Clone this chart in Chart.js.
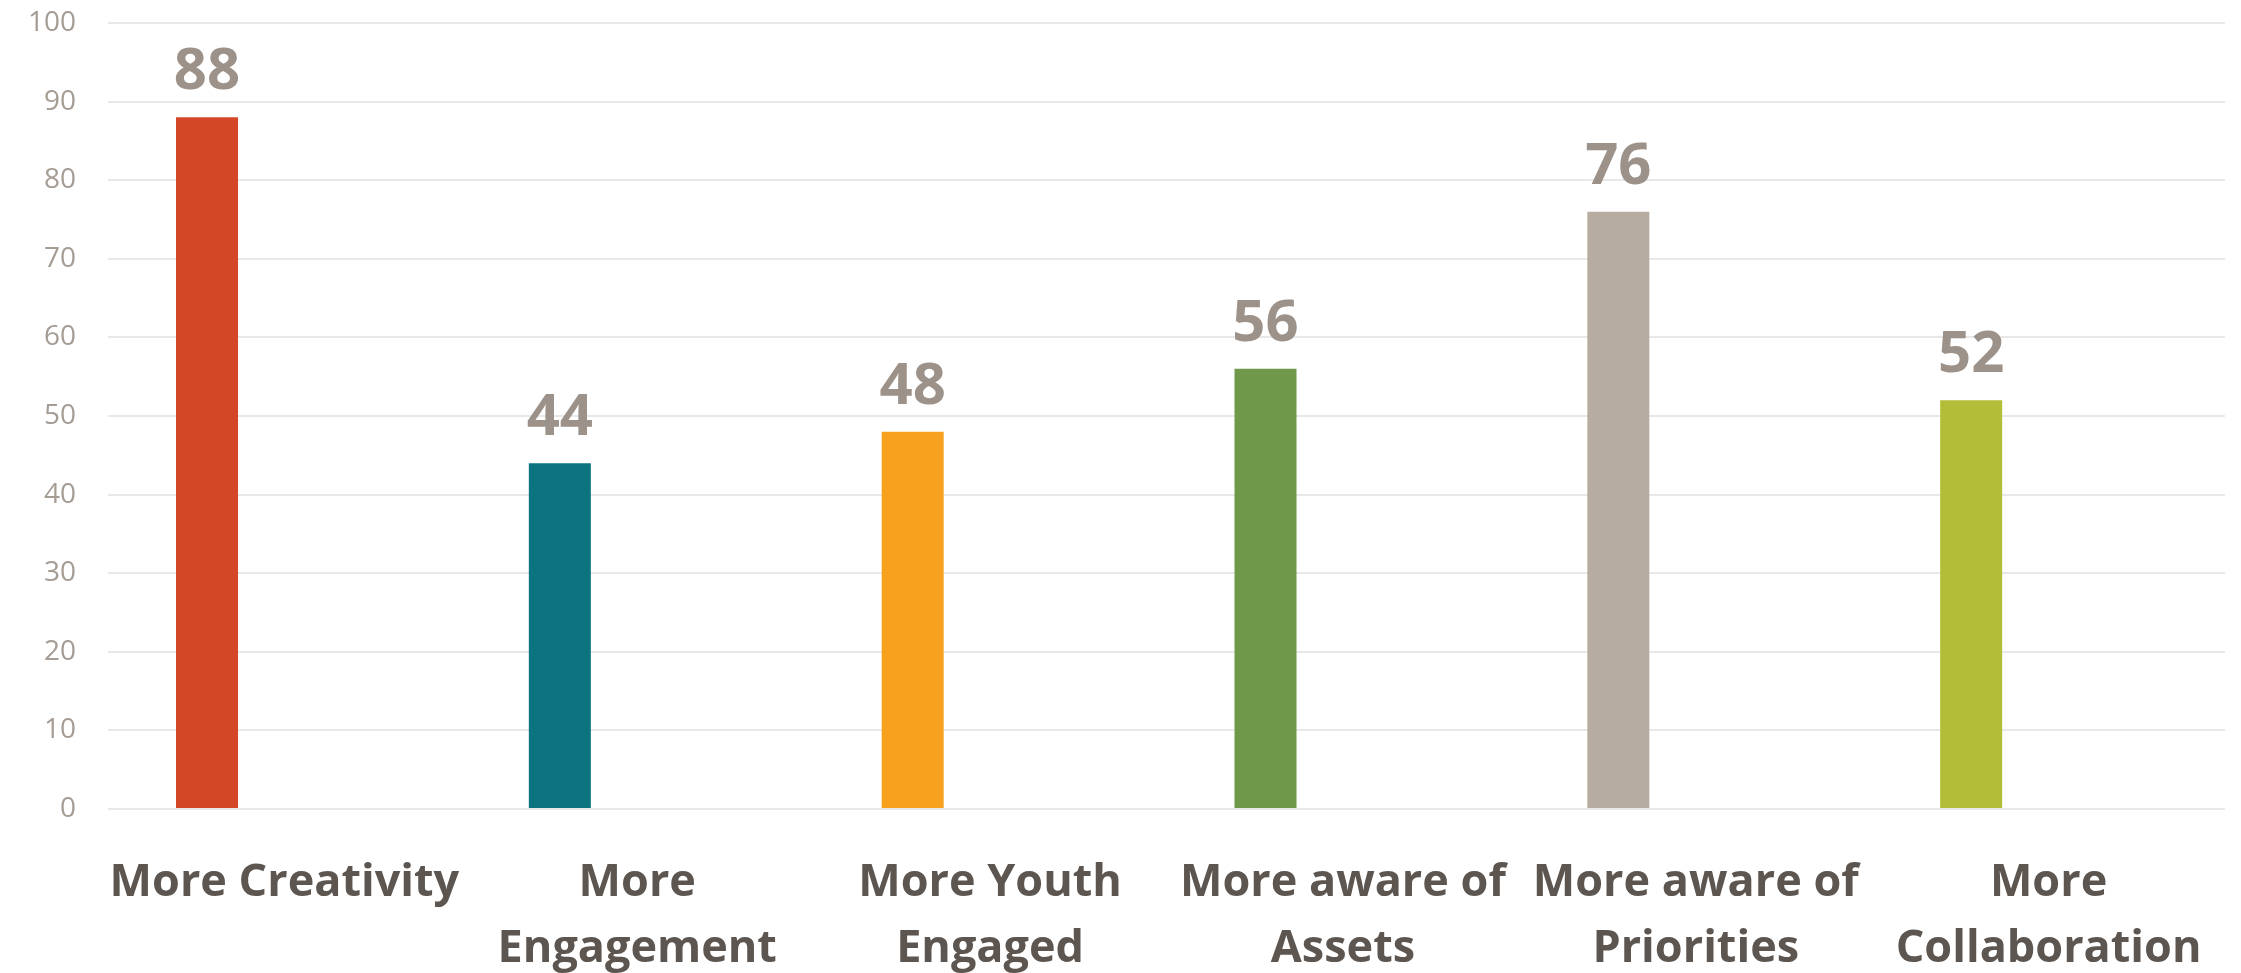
<!DOCTYPE html>
<html>
<head>
<meta charset="utf-8">
<script src="https://cdn.jsdelivr.net/npm/chart.js@4.4.1/dist/chart.umd.min.js"></script>
<style>
  html, body { margin: 0; padding: 0; background: #fff; }
  #wrap { width: 2241px; height: 973px; }
</style>
</head>
<body>
<div id="wrap"><canvas id="barChart"></canvas></div>
<script>
// categories (multi-line labels as shown)
const categories = [
  ["More Creativity"],
  ["More", "Engagement"],
  ["More Youth", "Engaged"],
  ["More aware of", "Assets"],
  ["More aware of", "Priorities"],
  ["More", "Collaboration"]
];
const values = [88, 44, 48, 56, 76, 52];
// second series of the source chart is empty, it only shifts the bars left
const emptySeries = [null, null, null, null, null, null];
const barColors = ["#d34727", "#0b7480", "#f8a11e", "#70984a", "#b6ada0", "#b4bd37"];
const yTicks = [0, 10, 20, 30, 40, 50, 60, 70, 80, 90, 100];

const FONT = "'Open Sans', 'Noto Sans', sans-serif";

// draws the value above every bar
const valueLabels = {
  id: "valueLabels",
  afterDatasetsDraw(chart) {
    const ctx = chart.ctx;
    const meta = chart.getDatasetMeta(0);
    ctx.save();
    ctx.font = "bold 58px " + FONT;
    ctx.fillStyle = "#9c928a";
    ctx.textAlign = "center";
    ctx.textBaseline = "alphabetic";
    meta.data.forEach((bar, i) => {
      ctx.fillText(String(values[i]), bar.x, bar.y - 28);
    });
    ctx.restore();
  }
};

const ctx = document.getElementById("barChart").getContext("2d");
new Chart(ctx, {
  type: "bar",
  data: {
    labels: categories,
    datasets: [{
      data: values,
      backgroundColor: barColors,
      borderWidth: 0,
      categoryPercentage: 0.8776,
      barPercentage: 0.4005
    }, {
      data: emptySeries,
      categoryPercentage: 0.8776,
      barPercentage: 0.4005
    }]
  },
  options: {
    responsive: true,
    maintainAspectRatio: false,
    animation: false,
    layout: { padding: { top: 0, right: 16, left: 0, bottom: 0 } },
    plugins: {
      legend: { display: false },
      tooltip: { enabled: false }
    },
    scales: {
      x: {
        grid: { display: false },
        border: { display: false },
        ticks: {
          color: "#5d5650",
          font: { family: FONT, size: 45, weight: "bold", lineHeight: 1.45 },
          padding: 34,
          maxRotation: 0,
          autoSkip: false
        },
        afterFit(scale) { scale.height = 164; }
      },
      y: {
        min: 0,
        max: 100,
        afterBuildTicks(scale) { scale.ticks = yTicks.map(v => ({ value: v })); },
        grid: { color: "#e8e8e8", lineWidth: 2, drawTicks: false },
        border: { display: false },
        ticks: {
          color: "#a59c94",
          font: { family: FONT, size: 28 },
          padding: 32
        },
        afterFit(scale) {
          scale.width = 108;
          // the tick padding would otherwise push the plot top down
          scale.paddingTop = 23;
          scale.paddingBottom = 0;
        }
      }
    }
  },
  plugins: [valueLabels]
});
</script>
</body>
</html>
